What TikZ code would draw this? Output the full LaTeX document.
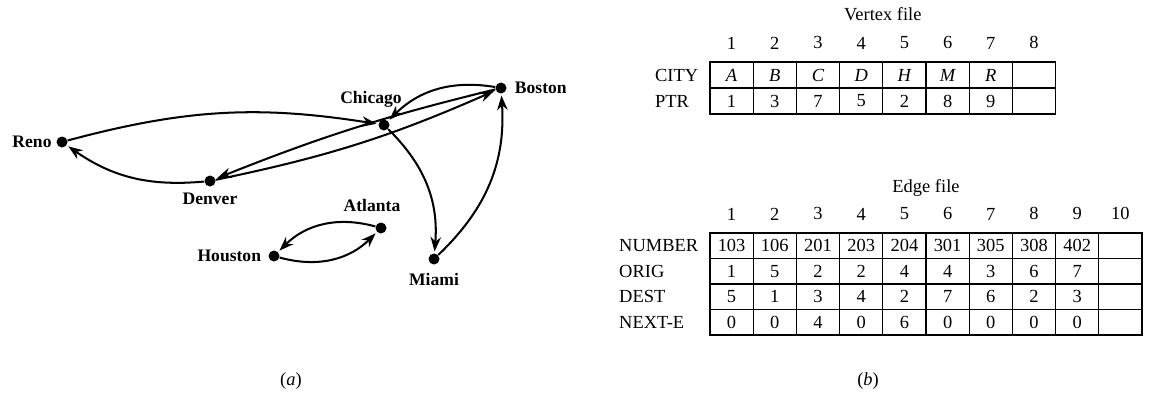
\documentclass[tikz,border=0pt]{standalone}
\usepackage{fontspec}
\setmainfont{Liberation Serif}
\usetikzlibrary{arrows.meta, positioning, calc}

\begin{document}
\begin{tikzpicture}[every node/.style={font=\fontsize{10.5}{12}\selectfont},
  city/.style={circle, fill, inner sep=0pt, minimum size=0.22cm},
  cityname/.style={font=\fontsize{10}{12}\selectfont\bfseries, inner sep=1pt},
  road/.style={-{Stealth[length=2.9mm, width=2.1mm]}, line width=1.15pt, shorten >=1pt},
  cell/.style={draw, line width=0.7pt, minimum width=0.864cm, minimum height=0.52cm, inner sep=0pt}]
  \useasboundingbox (0,0) rectangle (22.98,7.9);

  \node[city] (reno) at (1.24,5.06) {};
  \node[city] (chicago) at (7.68,5.40) {};
  \node[city] (boston) at (10.02,6.14) {};
  \node[city] (denver) at (4.20,4.28) {};
  \node[city] (atlanta) at (7.62,3.34) {};
  \node[city] (houston) at (5.48,2.78) {};
  \node[city] (miami) at (8.68,2.72) {};

  \node[cityname, left=0.05cm of reno] (renolbl) {Reno};
  \node[cityname, above=0.2cm, xshift=-0.26cm] (chicagolbl) at (chicago.north) {Chicago};
  \node[cityname, right=0.12cm of boston] (bostonlbl) {Boston};
  \node[cityname, below=0.08cm of denver] (denverlbl) {Denver};
  \node[cityname, above=0.17cm, xshift=-0.18cm] (atlantalbl) at (atlanta.north) {Atlanta};
  \node[cityname, left=0.1cm of houston] (houstonlbl) {Houston};
  \node[cityname, below=0.12cm of miami] (miamilbl) {Miami};

  \draw[road] (reno) to[bend left=12] (chicago);
  \draw[road] (denver) to[bend left=20] (reno);
  \draw[road] (boston) to[bend right=27] (chicago);
  \draw[road] (boston) to[bend right=4] (denver);
  \draw[road] (denver) to[bend right=6] (boston);
  \draw[road] (chicago) to[bend left=25] (miami);
  \draw[road] (miami) to[bend right=25] (boston);
  \draw[road] (atlanta) to[bend right=30] (houston);
  \draw[road] (houston) to[bend right=30] (atlanta);

  \foreach \i/\c/\p in {1/A/1, 2/B/3, 3/C/7, 4/D/5, 5/H/2, 6/M/8, 7/R/9, 8/{}/{}} {
    \node[cell] (c-\i) at ({14.2+0.864*(\i-0.5)},6.40) {\itshape\c};
    \node[cell] (p-\i) at ({14.2+0.864*(\i-0.5)},5.88) {\p};
    \node[above=0.12cm of c-\i] (vn-\i) {\i};
  }
  \node (vtitle) at ($(vn-4)!0.5!(vn-5)+(0,0.58)$) {Vertex file};
  \node[left=0.1cm of c-1] (cityrow) {CITY};
  \node[anchor=west] (ptrrow) at (cityrow.west |- p-1) {PTR};

  \foreach \i/\n/\o/\d/\e in {1/103/1/5/0, 2/106/5/1/0, 3/201/2/3/4, 4/203/2/4/0, 5/204/4/2/6,
      6/301/4/7/0, 7/305/3/6/0, 8/308/6/2/0, 9/402/7/3/0, 10/{}/{}/{}/{}} {
    \node[cell, minimum height=0.51cm] (n-\i) at ({14.2+0.864*(\i-0.5)},2.985) {\n};
    \node[cell, minimum height=0.51cm] (o-\i) at ({14.2+0.864*(\i-0.5)},2.475) {\o};
    \node[cell, minimum height=0.51cm] (d-\i) at ({14.2+0.864*(\i-0.5)},1.965) {\d};
    \node[cell, minimum height=0.51cm] (e-\i) at ({14.2+0.864*(\i-0.5)},1.455) {\e};
    \node[above=0.12cm of n-\i] (en-\i) {\i};
  }
  \node (etitle) at ($(en-5)!0.5!(en-6)+(0,0.52)$) {Edge file};
  \node[left=0.1cm of n-1] (number) {NUMBER};
  \node[anchor=west] (orig) at (number.west |- o-1) {ORIG};
  \node[anchor=west] (dest) at (number.west |- d-1) {DEST};
  \node[anchor=west] (nexte) at (number.west |- e-1) {NEXT-E};

  \node (capa) at (5.82,0.28) {(\textit{a})};
  \node (capb) at (17.36,0.28) {(\textit{b})};
\end{tikzpicture}
\end{document}
